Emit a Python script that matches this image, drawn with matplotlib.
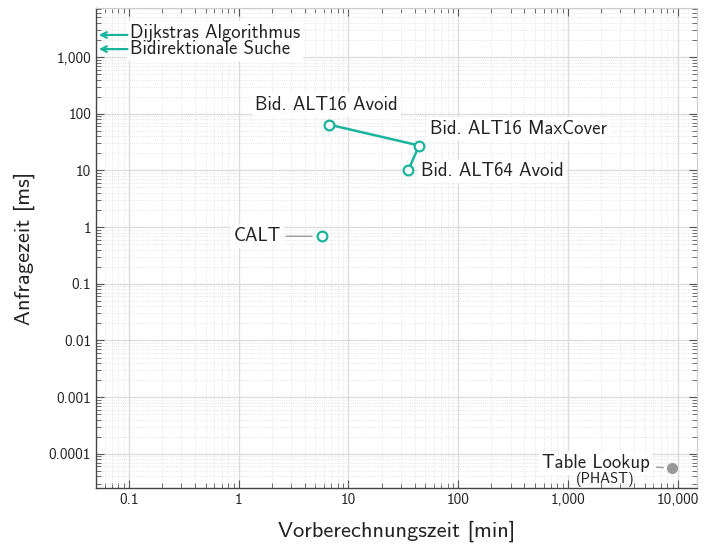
import os
import numpy as np
import matplotlib
matplotlib.use("Agg")
import matplotlib.pyplot as plt
from matplotlib import font_manager
from matplotlib.ticker import FixedLocator, LogLocator, NullFormatter, FuncFormatter

# LaTeX-like sans font shipped with matplotlib
cmss = os.path.join(matplotlib.get_data_path(), "fonts", "ttf", "cmss10.ttf")
FAM = ["DejaVu Sans"]
if os.path.exists(cmss):
    font_manager.fontManager.addfont(cmss)
    FAM = ["cmss10", "DejaVu Sans"]
plt.rcParams["font.family"] = FAM

# ---- data ----
path_names = ["Bid. ALT16 Avoid", "Bid. ALT16 MaxCover", "Bid. ALT64 Avoid"]
path_prep = [6.7, 44, 35]          # min
path_query = [64, 27.5, 10]        # ms
calt_prep = [5.7]
calt_query = [0.69]
table_prep = [8800]
table_query = [5.6e-5]
noprep_names = ["Dijkstras Algorithmus", "Bidirektionale Suche"]
noprep_query = [2450, 1380]

x_ticks = [0.1, 1, 10, 100, 1000, 10000]
x_ticklabels = ["0.1", "1", "10", "100", "1,000", "10,000"]
y_ticks = [0.0001, 0.001, 0.01, 0.1, 1, 10, 100, 1000]
y_ticklabels = ["0.0001", "0.001", "0.01", "0.1", "1", "10", "100", "1,000"]

TEAL = "#1ab39b"
TXT = "#222222"

fig = plt.figure(figsize=(7.07, 5.46), dpi=100)
ax = fig.add_axes([0.1358, 0.1062, 0.850, 0.879])
ax.set_xscale("log")
ax.set_yscale("log")
ax.set_xlim(0.05, 15000)
ax.set_ylim(2.5e-5, 7300)

ax.xaxis.set_major_locator(FixedLocator(x_ticks))
ax.xaxis.set_major_formatter(FuncFormatter(lambda v, p: x_ticklabels[x_ticks.index(v)] if v in x_ticks else ""))
ax.yaxis.set_major_locator(FixedLocator(y_ticks))
ax.yaxis.set_major_formatter(FuncFormatter(lambda v, p: y_ticklabels[y_ticks.index(v)] if v in y_ticks else ""))
ax.xaxis.set_minor_locator(LogLocator(base=10, subs=range(2, 10), numticks=20))
ax.yaxis.set_minor_locator(LogLocator(base=10, subs=range(2, 10), numticks=20))
ax.xaxis.set_minor_formatter(NullFormatter())
ax.yaxis.set_minor_formatter(NullFormatter())

ax.grid(which="major", color="#dddddd", linewidth=1.0, linestyle="-")
ax.grid(which="minor", color="#dddddd", linewidth=0.6, linestyle=":")
ax.set_axisbelow(True)

ax.tick_params(which="both", direction="in", top=True, right=True, colors="#555555",
               labelcolor=TXT, labelsize=11)
ax.tick_params(which="major", length=6, width=0.8)
ax.tick_params(which="minor", length=3.5, width=0.6)
for s in ["left", "bottom"]:
    ax.spines[s].set_color("#444444")
    ax.spines[s].set_linewidth(1.0)
for s in ["top", "right"]:
    ax.spines[s].set_color("#cccccc")
    ax.spines[s].set_linewidth(0.8)

ax.set_xlabel("Vorberechnungszeit [min]", fontsize=16.2, color=TXT, labelpad=10)
ax.set_ylabel("Anfragezeit [ms]", fontsize=16.2, color=TXT, labelpad=10)

box = dict(boxstyle="square,pad=0.15", fc="white", ec="none")
FS = 13.5

# line through ALT points
ax.plot(path_prep, path_query, color=TEAL, lw=1.8, marker="o", ms=7,
        mfc="white", mec=TEAL, mew=1.6, zorder=4)
ax.plot(calt_prep, calt_query, ls="none", marker="o", ms=7,
        mfc="white", mec=TEAL, mew=1.6, zorder=4)
ax.plot(table_prep, table_query, ls="none", marker="o", ms=7,
        mfc="#999999", mec="#999999", zorder=4)

# labels for the ALT points
offsets = [(-3, 20, "center", "center"), (11, 17, "left", "center"), (13, -1, "left", "center")]
for name, x, y, (dx, dy, ha, va) in zip(path_names, path_prep, path_query, offsets):
    ax.annotate(name, (x, y), xytext=(dx, dy), textcoords="offset pixels",
                ha=ha, va=va, fontsize=FS, color=TXT, bbox=box, zorder=3)

# CALT label with connector
ax.annotate("CALT", (calt_prep[0], calt_query[0]), xytext=(-41, 0), textcoords="offset pixels",
            ha="right", va="center", fontsize=FS, color=TXT, bbox=box, zorder=3,
            arrowprops=dict(arrowstyle="-", color="#999999", lw=1.0,
                            shrinkA=2, shrinkB=7))

# Table lookup
ax.annotate("Table Lookup", (table_prep[0], table_query[0]), xytext=(-22, 5), textcoords="offset pixels",
            ha="right", va="center", fontsize=FS, color=TXT, bbox=box, zorder=3,
            arrowprops=dict(arrowstyle="-", color="#999999", lw=1.0, shrinkA=3, shrinkB=6))
ax.annotate("(PHAST)", (table_prep[0], table_query[0]), xytext=(-66, -11), textcoords="offset pixels",
            ha="center", va="center", fontsize=10.5, color=TXT, zorder=3)

# no-preprocessing methods: arrows pointing left off the axis
for q in noprep_query:
    ax.annotate("", xy=(0, q), xycoords=("axes fraction", "data"),
                xytext=(0.057, q), textcoords=("axes fraction", "data"),
                arrowprops=dict(arrowstyle="->", color=TEAL, lw=1.6), zorder=5)
mid_q = float(np.sqrt(noprep_query[0] * noprep_query[1]))
ax.annotate("\n".join(noprep_names), xy=(0.057, mid_q), xycoords=("axes fraction", "data"),
            xytext=(0, 1), textcoords="offset pixels",
            ha="left", va="center", fontsize=FS, color=TXT, bbox=box, zorder=3,
            linespacing=0.82)

fig.savefig("out.png", dpi=100)
